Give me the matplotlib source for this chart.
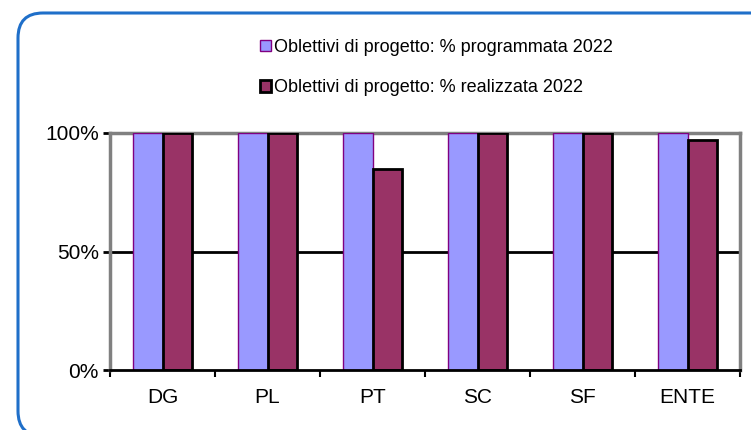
import matplotlib.pyplot as plt
import numpy as np
from matplotlib.patches import FancyBboxPatch

# 1. Input
categories = ["DG", "PL", "PT", "SC", "SF", "ENTE"]
programmata = [100, 100, 100, 100, 100, 100]
realizzata = [100, 100, 85, 100, 100, 97]
labels = ["Oblettivi di progetto: % programmata 2022",
          "Oblettivi di progetto: % realizzata 2022"]

# 2. Process
x = np.arange(len(categories))
w = 0.285

plt.rcParams['font.family'] = ['Liberation Sans', 'DejaVu Sans']

# 3. Output
fig = plt.figure(figsize=(7.51, 4.30), dpi=100)
# rounded chart border (inches)
fig.patches.append(FancyBboxPatch((0.18, -0.06), 8.0, 4.30 - 0.13 + 0.06,
                                  boxstyle="round,pad=0,rounding_size=0.25",
                                  transform=fig.dpi_scale_trans, fill=False,
                                  edgecolor="#1f6fc9", linewidth=2.2))
ax = fig.add_axes([110 / 751, 1 - 370 / 430, 630 / 751, 237 / 430])

b1 = ax.bar(x - w / 2, programmata, w, color="#9999FF", edgecolor="#800080",
            linewidth=1, label=labels[0], zorder=3)
b2 = ax.bar(x + w / 2, realizzata, w, color="#993366", edgecolor="black",
            linewidth=2, label=labels[1], zorder=3)

ax.axhline(50, color="black", linewidth=2, zorder=1)
ax.set_xlim(-0.5, len(categories) - 0.5)
ax.set_ylim(0, 100)
ax.set_yticks([0, 50, 100])
ax.set_yticklabels(["0%", "50%", "100%"], fontsize=15)
ax.set_xticks(x)
ax.set_xticklabels(categories, fontsize=15)
ax.set_xticks(np.arange(len(categories) + 1) - 0.5, minor=True)
ax.tick_params(axis="x", which="major", length=0, pad=13)
ax.tick_params(axis="x", which="minor", length=5, width=1.5, color="black")
ax.tick_params(axis="y", length=5, width=2, color="black", pad=3)
for s in ["top", "right", "left"]:
    ax.spines[s].set_color("#808080")
    ax.spines[s].set_linewidth(2.5)
ax.spines["bottom"].set_color("black")
ax.spines["bottom"].set_linewidth(2)
ax.spines["bottom"].set_zorder(4)

leg = fig.legend(handles=[b1, b2], loc="upper left", bbox_to_anchor=(251 / 751, 1 - 30 / 430),
                 frameon=False, fontsize=13, handlelength=0.6, handleheight=0.6,
                 handletextpad=0.2, labelspacing=1.3, borderpad=0)
fig.savefig("out.png", dpi=100)
